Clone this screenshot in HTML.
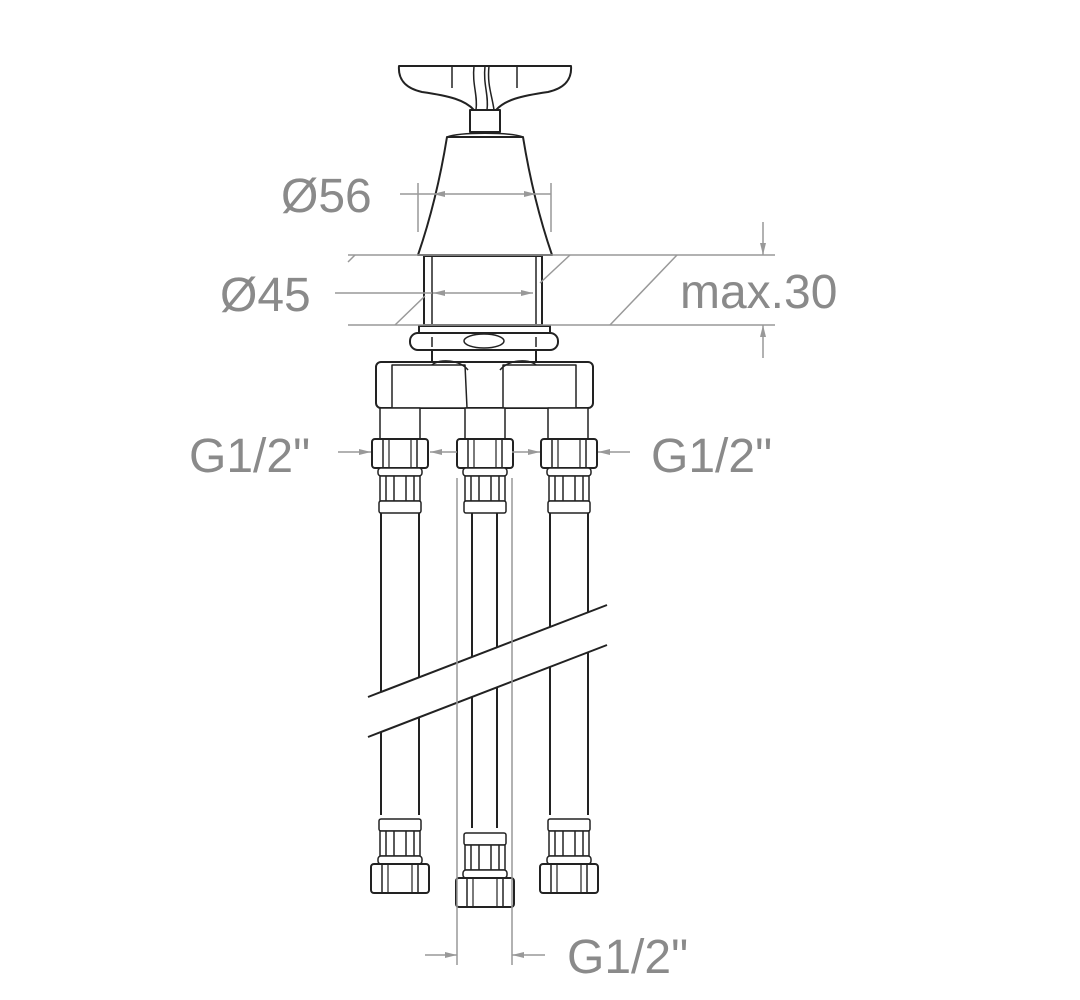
<!DOCTYPE html>
<html><head><style>
html,body{margin:0;padding:0;background:#fff;width:1080px;height:1000px;overflow:hidden}
svg{display:block}
text{font-family:"Liberation Sans",sans-serif;fill:#8a8a8a;font-size:48px}
</style></head><body>
<svg width="1080" height="1000" viewBox="0 0 1080 1000" xmlns="http://www.w3.org/2000/svg">
<defs>
<marker id="a" markerWidth="12" markerHeight="8" refX="12" refY="4" orient="auto" markerUnits="userSpaceOnUse"><path d="M0,1 L12,4 L0,7 Z" fill="#999"/></marker>
<g id="fit">
  <rect x="-28" y="0" width="56" height="29" rx="3" fill="#fff" stroke="#222" stroke-width="2"/>
  <line x1="-17" y1="0" x2="-17" y2="29" stroke="#222" stroke-width="1.5"/>
  <line x1="17" y1="0" x2="17" y2="29" stroke="#222" stroke-width="1.5"/>
  <line x1="-11" y1="0" x2="-11" y2="29" stroke="#222" stroke-width="1.2"/>
  <line x1="11" y1="0" x2="11" y2="29" stroke="#222" stroke-width="1.2"/>
  <rect x="-22" y="29" width="44" height="8" rx="3" fill="#fff" stroke="#222" stroke-width="1.5"/>
  <rect x="-20" y="37" width="40" height="25" fill="#fff" stroke="#222" stroke-width="1.5"/>
  <line x1="-14" y1="37" x2="-14" y2="62" stroke="#222" stroke-width="1.5"/>
  <line x1="-6" y1="37" x2="-6" y2="62" stroke="#222" stroke-width="1.5"/>
  <line x1="6" y1="37" x2="6" y2="62" stroke="#222" stroke-width="1.5"/>
  <line x1="14" y1="37" x2="14" y2="62" stroke="#222" stroke-width="1.5"/>
  <rect x="-21" y="62" width="42" height="12" rx="2" fill="#fff" stroke="#222" stroke-width="1.5"/>
</g>
<g id="fitB">
  <rect x="-21" y="0" width="42" height="12" rx="2" fill="#fff" stroke="#222" stroke-width="1.5"/>
  <rect x="-20" y="12" width="40" height="25" fill="#fff" stroke="#222" stroke-width="1.5"/>
  <line x1="-14" y1="12" x2="-14" y2="37" stroke="#222" stroke-width="1.5"/>
  <line x1="-6" y1="12" x2="-6" y2="37" stroke="#222" stroke-width="1.5"/>
  <line x1="6" y1="12" x2="6" y2="37" stroke="#222" stroke-width="1.5"/>
  <line x1="14" y1="12" x2="14" y2="37" stroke="#222" stroke-width="1.5"/>
  <rect x="-22" y="37" width="44" height="8" rx="3" fill="#fff" stroke="#222" stroke-width="1.5"/>
  <rect x="-29" y="45" width="58" height="29" rx="3" fill="#fff" stroke="#222" stroke-width="2"/>
  <line x1="-18" y1="45" x2="-18" y2="74" stroke="#222" stroke-width="1.5"/>
  <line x1="18" y1="45" x2="18" y2="74" stroke="#222" stroke-width="1.5"/>
  <line x1="-12" y1="45" x2="-12" y2="74" stroke="#222" stroke-width="1.2"/>
  <line x1="12" y1="45" x2="12" y2="74" stroke="#222" stroke-width="1.2"/>
</g>
</defs>

<g stroke="#222" stroke-width="2" fill="#fff" stroke-linejoin="round">
  <path d="M399,66 L571,66 C572,78 566,88 548,92 C520,96 505,100 496,110 L474,110 C465,100 450,96 422,92 C404,88 398,78 399,66 Z"/>
  <line x1="452" y1="66" x2="452" y2="88" stroke-width="1.5"/>
  <line x1="517" y1="66" x2="517" y2="88" stroke-width="1.5"/>
  <path d="M474,66 C472,85 478,95 476,110 M485,66 C483,85 489,95 487,110 M489,66 C487,85 492,95 494,110" fill="none" stroke-width="1.5"/>
  <rect x="470" y="110" width="30" height="22"/>
  <path d="M447,137 L523,137 C530,180 540,220 552,255 L418,255 C430,220 440,180 447,137 Z"/>
  <path d="M447,137 C460,132 510,132 523,137" fill="none" stroke-width="1.5"/>
  <rect x="424" y="256" width="118" height="69"/>
  <line x1="432" y1="256" x2="432" y2="325" stroke-width="1.5"/>
  <line x1="536" y1="256" x2="536" y2="325" stroke-width="1.5"/>
  <rect x="419" y="326" width="131" height="7"/>
  <rect x="410" y="333" width="148" height="17" rx="8"/>
  <line x1="432" y1="337" x2="432" y2="347" stroke-width="1.5"/>
  <line x1="536" y1="337" x2="536" y2="347" stroke-width="1.5"/>
  <ellipse cx="484" cy="341" rx="20" ry="7" stroke-width="1.5"/>
  <rect x="432" y="350" width="104" height="12"/>
  <rect x="376" y="362" width="217" height="46" rx="5"/>
  <path d="M392,365 L465,365 L467,408 L392,408 Z" stroke-width="1.5"/>
  <path d="M503,365 L576,365 L576,408 L503,408 Z" stroke-width="1.5"/>
  <path d="M432,365 C440,358 460,360 468,370" fill="none" stroke-width="1.5"/>
  <path d="M536,365 C528,358 508,360 500,370" fill="none" stroke-width="1.5"/>
  <rect x="380" y="408" width="40" height="31" stroke-width="1.5"/>
  <rect x="548" y="408" width="40" height="31" stroke-width="1.5"/>
  <rect x="465" y="408" width="40" height="31" stroke-width="1.5"/>
</g>

<g stroke="#222" stroke-width="2">
  <line x1="381" y1="513" x2="381" y2="692"/><line x1="419" y1="513" x2="419" y2="677"/>
  <line x1="472" y1="513" x2="472" y2="657"/><line x1="497" y1="513" x2="497" y2="647"/>
  <line x1="550" y1="513" x2="550" y2="627"/><line x1="588" y1="513" x2="588" y2="612"/>
  <line x1="381" y1="732" x2="381" y2="815"/><line x1="419" y1="717" x2="419" y2="815"/>
  <line x1="472" y1="697" x2="472" y2="828"/><line x1="497" y1="687" x2="497" y2="828"/>
  <line x1="550" y1="667" x2="550" y2="815"/><line x1="588" y1="652" x2="588" y2="815"/>
  <line x1="368" y1="697" x2="607" y2="605"/>
  <line x1="368" y1="737" x2="607" y2="645"/>
</g>

<use href="#fit" x="400" y="439"/>
<use href="#fit" x="485" y="439"/>
<use href="#fit" x="569" y="439"/>
<use href="#fitB" x="400" y="819"/>
<use href="#fitB" x="569" y="819"/>
<use href="#fitB" x="485" y="833"/>

<g stroke="#999" stroke-width="1.5" fill="none">
  <line x1="348" y1="255" x2="775" y2="255"/>
  <line x1="348" y1="325" x2="775" y2="325"/>
  <line x1="348" y1="262" x2="355" y2="255"/>
  <line x1="395" y1="325" x2="425" y2="296"/>
  <line x1="540" y1="283" x2="570" y2="255"/>
  <line x1="610" y1="325" x2="677" y2="255"/>
  <line x1="418" y1="183" x2="418" y2="232"/>
  <line x1="551" y1="183" x2="551" y2="232"/>
  <line x1="400" y1="194" x2="433" y2="194"/>
  <line x1="470" y1="194" x2="433" y2="194" marker-end="url(#a)"/>
  <line x1="470" y1="194" x2="536" y2="194" marker-end="url(#a)"/>
  <line x1="536" y1="194" x2="551" y2="194"/>
  <line x1="335" y1="293" x2="432" y2="293"/>
  <line x1="480" y1="293" x2="433" y2="293" marker-end="url(#a)"/>
  <line x1="480" y1="293" x2="533" y2="293" marker-end="url(#a)"/>
  <line x1="763" y1="222" x2="763" y2="255" marker-end="url(#a)"/>
  <line x1="763" y1="358" x2="763" y2="325" marker-end="url(#a)"/>
  <line x1="338" y1="452" x2="371" y2="452" marker-end="url(#a)"/>
  <line x1="630" y1="452" x2="598" y2="452" marker-end="url(#a)"/>
  <line x1="457" y1="452" x2="430" y2="452" marker-end="url(#a)"/>
  <line x1="512" y1="452" x2="540" y2="452" marker-end="url(#a)"/>
  <line x1="457" y1="478" x2="457" y2="965"/>
  <line x1="512" y1="478" x2="512" y2="965"/>
  <line x1="425" y1="955" x2="457" y2="955" marker-end="url(#a)"/>
  <line x1="545" y1="955" x2="512" y2="955" marker-end="url(#a)"/>
</g>

<text x="281" y="212">Ø56</text>
<text x="220" y="311">Ø45</text>
<text x="680" y="308">max.30</text>
<text x="189" y="472">G1/2"</text>
<text x="651" y="472">G1/2"</text>
<text x="567" y="973">G1/2"</text>
</svg>
</body></html>
